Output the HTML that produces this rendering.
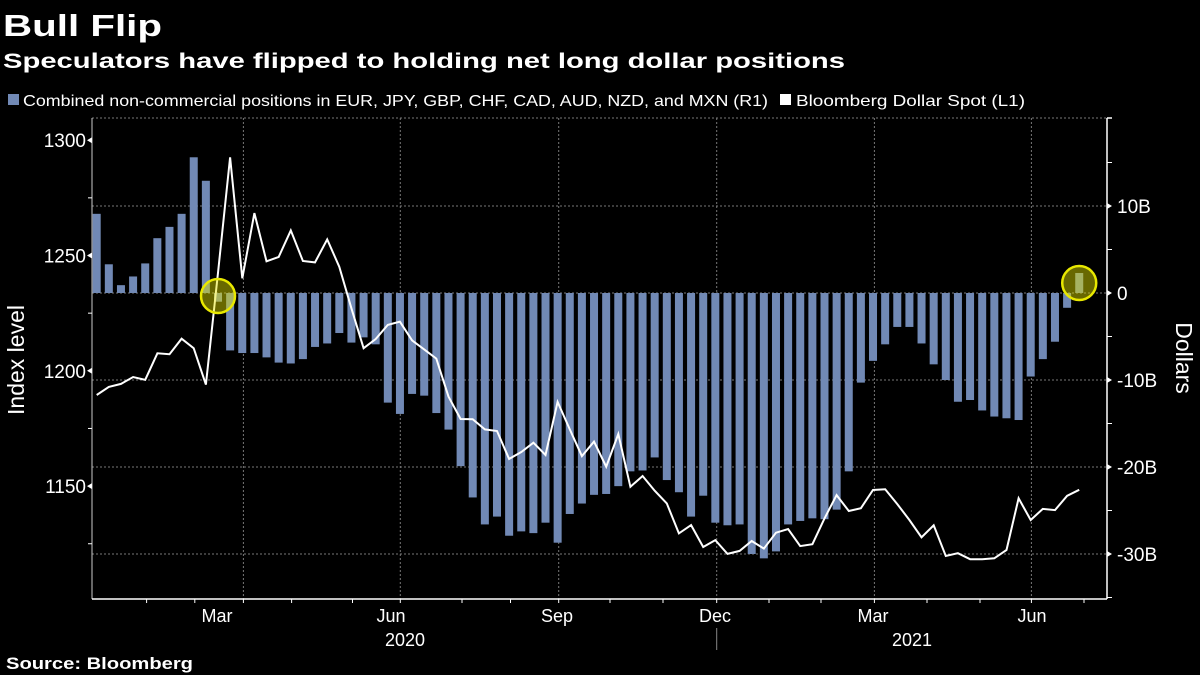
<!DOCTYPE html>
<html><head><meta charset="utf-8"><style>
html,body{margin:0;padding:0;background:#000;}
svg{display:block;font-family:"Liberation Sans",sans-serif;}
</style></head><body>
<svg id="chart" width="1200" height="675" viewBox="0 0 1200 675">
<rect width="1200" height="675" fill="#000"/>
<text x="3" y="36" fill="#fff" font-size="31" font-weight="bold" textLength="159" lengthAdjust="spacingAndGlyphs">Bull Flip</text>
<text x="3" y="68" fill="#fff" font-size="21" font-weight="bold" textLength="842" lengthAdjust="spacingAndGlyphs">Speculators have flipped to holding net long dollar positions</text>
<g>
<rect x="8" y="94" width="11" height="11" fill="#7189b5"/>
<text x="23" y="106" fill="#fff" font-size="16" textLength="745" lengthAdjust="spacingAndGlyphs">Combined non-commercial positions in EUR, JPY, GBP, CHF, CAD, AUD, NZD, and MXN (R1)</text>
<rect x="780" y="94" width="11" height="11" fill="#fff"/>
<text x="796" y="106" fill="#fff" font-size="16" textLength="229" lengthAdjust="spacingAndGlyphs">Bloomberg Dollar Spot (L1)</text>
</g>
<g id="grid"></g>
<g id="bars"></g>
<g id="line"></g>
<g id="axes"></g>
<text x="0" y="0" transform="translate(24,360) rotate(-90)" text-anchor="middle" fill="#fff" font-size="23">Index level</text>
<text x="0" y="0" transform="translate(1176,358) rotate(90)" text-anchor="middle" fill="#fff" font-size="23">Dollars</text>
<text x="6" y="669" fill="#fff" font-size="17" font-weight="bold" textLength="187" lengthAdjust="spacingAndGlyphs">Source: Bloomberg</text>
</svg>
<script>
const positions = [9.1,3.3,0.9,1.9,3.4,6.3,7.6,9.1,15.6,12.9,-1.0,-6.6,-6.9,-6.9,-7.4,-8.0,-8.1,-7.6,-6.2,-5.8,-4.6,-5.7,-5.1,-5.9,-12.6,-13.9,-11.6,-11.8,-13.8,-15.7,-19.9,-23.5,-26.6,-25.7,-27.9,-27.4,-27.6,-26.4,-28.7,-25.4,-24.2,-23.2,-23.1,-22.2,-20.5,-20.4,-18.9,-21.5,-22.9,-25.7,-23.3,-26.4,-26.7,-26.6,-30.0,-30.5,-29.7,-26.6,-26.2,-25.9,-26.0,-24.9,-20.5,-10.3,-7.8,-5.9,-3.9,-3.9,-5.8,-8.2,-10.0,-12.5,-12.3,-13.5,-14.2,-14.4,-14.6,-9.6,-7.6,-5.6,-1.7,2.3];
const dollarIndex = [1189.5,1193,1194.3,1197.3,1196.1,1207.6,1207.2,1213.9,1209.8,1194,1242.5,1292.6,1240.1,1268.4,1247.5,1249.4,1260.9,1247.6,1247,1257,1245.1,1227.1,1209.8,1213.8,1219.9,1221.3,1213.2,1209.3,1205.3,1188.8,1179.1,1179,1174.6,1173.9,1161.8,1164.8,1168.8,1163.5,1186.5,1174.6,1163,1169.3,1158.4,1172.6,1149.7,1154.4,1148,1142.5,1129.5,1133.1,1123.6,1126.6,1120.6,1121.9,1126.2,1122.9,1129.8,1131.4,1124,1124.8,1136,1146.1,1139.2,1140.4,1148.3,1148.6,1142.2,1135.3,1127.8,1133,1119.7,1120.9,1118.3,1118.3,1118.7,1122.3,1144.7,1135.3,1140.1,1139.6,1145.8,1148.4];
const leftTicks = [1150,1200,1250,1300];
const leftMinor = [1125,1175,1225,1275];
const rightTicks = [10,0,-10,-20,-30];
const rightLabels = ["10B","0","-10B","-20B","-30B"];
const rightMinor = [15,5,-5,-15,-25,-35];
const monthLabels = ["Mar","Jun","Sep","Dec","Mar","Jun"];
const monthLabelPos = [217,391,557,715,873,1032];
const gridX = [243.4,400.3,558.7,716.7,874.4,1031.4];
const monthTicks = [146.6,194.8,243.4,291.6,352.5,400.3,462,510.5,558.7,610,663,716.7,769,821,874.4,927,980,1031.4,1084];
const yearLabels = ["2020","2021"];
const yearPos = [405,912];

const NS="http://www.w3.org/2000/svg";
const X0=96.7, DX=12.13, PL=92, PR=1107, PT=118, PB=599;
const xAt=i=>X0+i*DX;
const yL=v=>255.5-(v-1250)*2.306;
const yR=v=>293-v*8.7;
function mk(tag,attrs,parent){const e=document.createElementNS(NS,tag);for(const k in attrs)e.setAttribute(k,attrs[k]);parent.appendChild(e);return e;}
const grid=document.getElementById('grid'),bars=document.getElementById('bars'),line=document.getElementById('line'),axes=document.getElementById('axes');

[PT].concat(rightTicks.map(yR)).forEach(y=>{
  const g=mk('line',{x1:PL,x2:PR,y1:y,y2:y,stroke:'#777','stroke-width':1,'stroke-dasharray':'2,2'},grid);
  
  
});
gridX.forEach(x=>{
  const g=mk('line',{x1:x,x2:x,y1:PT,y2:PB,stroke:'#777','stroke-width':1,'stroke-dasharray':'2,2'},grid);
  
  
});

positions.forEach((v,i)=>{
  const y0=yR(0),y1=yR(v);
  const r=mk('rect',{x:xAt(i)-4,y:Math.min(y0,y1),width:8,height:Math.abs(y1-y0),fill:'#7189b5'},bars);
  
  
});

const pts=dollarIndex.map((v,i)=>xAt(i).toFixed(1)+','+yL(v).toFixed(1)).join(' ');
const pl=mk('polyline',{points:pts,fill:'none',stroke:'#fff','stroke-width':2,'stroke-linejoin':'miter'},line);



[[10,296],[81,283]].forEach(([i,cy])=>{
  const c=mk('circle',{cx:xAt(i),cy:cy,r:17,fill:'rgba(230,230,0,0.45)',stroke:'#e8e800','stroke-width':2.5},line);
  
  
});

let a=mk('line',{x1:PL,x2:PL,y1:PT,y2:PB,stroke:'#ccc','stroke-width':1},axes);


a=mk('line',{x1:PR,x2:PR,y1:PT,y2:PB,stroke:'#fff','stroke-width':1.5},axes);


a=mk('line',{x1:PL,x2:PR,y1:PB,y2:PB,stroke:'#fff','stroke-width':1.5},axes);


a=mk('line',{x1:PR,x2:PR+5,y1:PT,y2:PT,stroke:'#fff','stroke-width':1.5},axes);



leftTicks.forEach(v=>{
  const y=yL(v);
  const p=mk('path',{d:`M${PL} ${y-3} L${PL-5} ${y} L${PL} ${y+3} Z`,fill:'#fff'},axes);
  
  
  const t=mk('text',{x:PL-6,y:y+7,'text-anchor':'end',fill:'#fff','font-size':19},axes);
  t.textContent=v;
  
  
});
leftMinor.forEach(v=>{
  const y=yL(v);
  const l=mk('line',{x1:PL-4,x2:PL,y1:y,y2:y,stroke:'#fff','stroke-width':1},axes);
  
  
});
rightTicks.forEach((v,i)=>{
  const y=yR(v);
  const p=mk('path',{d:`M${PR} ${y-3} L${PR+5} ${y} L${PR} ${y+3} Z`,fill:'#fff'},axes);
  
  
  const t=mk('text',{x:PR+10,y:y+7,fill:'#fff','font-size':19},axes);
  t.textContent=rightLabels[i];
  
  
});
rightMinor.forEach(v=>{
  const y=yR(v);
  const l=mk('line',{x1:PR,x2:PR+5,y1:y,y2:y,stroke:'#fff','stroke-width':1},axes);
  
  
});
monthTicks.forEach(x=>{
  const l=mk('line',{x1:x,x2:x,y1:PB,y2:PB+4,stroke:'#fff','stroke-width':1},axes);
  
  
});
monthLabels.forEach((m,i)=>{
  const t=mk('text',{x:monthLabelPos[i],y:622,'text-anchor':'middle',fill:'#fff','font-size':18},axes);
  t.textContent=m;
  
  
});
yearLabels.forEach((m,i)=>{
  const t=mk('text',{x:yearPos[i],y:646,'text-anchor':'middle',fill:'#fff','font-size':18},axes);
  t.textContent=m;
  
  
});
a=mk('line',{x1:716.7,x2:716.7,y1:628,y2:650,stroke:'#888','stroke-width':1},axes);


</script>
</body></html>
